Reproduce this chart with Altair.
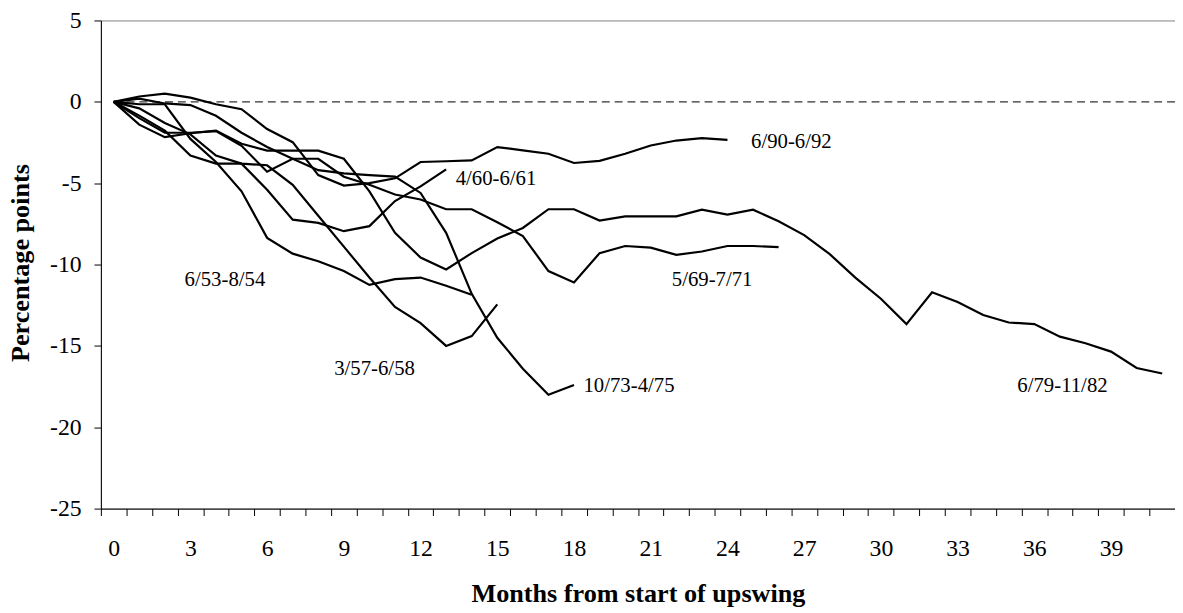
import altair as alt
import pandas as pd

# ---- data ----
series_names = ["6/53-8/54", "3/57-6/58", "4/60-6/61", "5/69-7/71",
                "10/73-4/75", "6/79-11/82", "6/90-6/92"]

s_53 = [0, -0.15, -0.15, -2.28, -3.7, -5.5, -8.36, -9.33, -9.8, -10.4, -11.25,
        -10.9, -10.8, -11.3, -11.86]
s_57 = [0, -0.4, -1.3, -2.0, -3.3, -3.8, -3.9, -5.1, -7.0, -8.9, -10.8, -12.6,
        -13.6, -15.0, -14.4, -12.45]
s_60 = [0, -0.85, -1.77, -3.3, -3.8, -3.8, -5.4, -7.24, -7.44, -7.95, -7.64,
        -6.1, -5.2, -4.15]
s_69 = [0, -1.0, -1.9, -1.9, -1.8, -2.7, -4.3, -3.5, -3.5, -4.6, -5.1, -5.7,
        -6.0, -6.6, -6.6, -7.4, -8.25, -10.4, -11.1, -9.3, -8.86, -8.96, -9.4,
        -9.2, -8.86, -8.86, -8.93]
s_73 = [0, 0.2, -0.1, -0.2, -0.86, -1.9, -2.78, -3.5, -4.2, -4.4, -4.5, -4.6,
        -5.6, -8.05, -11.8, -14.5, -16.4, -18.0, -17.4]
s_79 = [0, -1.4, -2.17, -1.93, -1.77, -2.58, -3.0, -3.0, -3.0, -3.5, -5.5,
        -8.05, -9.57, -10.3, -9.3, -8.4, -7.75, -6.6, -6.6, -7.3, -7.04, -7.04,
        -7.04, -6.63, -6.93, -6.63, -7.34, -8.19, -9.36, -10.8, -12.1, -13.66,
        -11.7, -12.3, -13.1, -13.56, -13.66, -14.43, -14.84, -15.35, -16.36,
        -16.7]
s_90 = [0, 0.33, 0.5, 0.26, -0.15, -0.45, -1.67, -2.48, -4.5, -5.15, -5.0,
        -4.7, -3.7, -3.65, -3.6, -2.78, -2.98, -3.19, -3.76, -3.63, -3.19,
        -2.68, -2.38, -2.23, -2.34]
series_values = [s_53, s_57, s_60, s_69, s_73, s_79, s_90]

# label positions (month, value)
label_month = [4.35, 10.2, 14.95, 23.4, 20.15, 37.1, 26.5]
label_value = [-10.93, -16.4, -4.73, -10.93, -17.45, -17.45, -2.48]

x_labels = list(range(0, 40, 3))          # 0 .. 39
n_months = 42                             # categories 0 .. 41
y_ticks = [5, 0, -5, -10, -15, -20, -25]

# ---- tables ----
rows = []
for name, vals in zip(series_names, series_values):
    for m, v in enumerate(vals):
        rows.append({"series": name, "month": m, "value": v})
df = pd.DataFrame(rows)

ann = pd.DataFrame({"text": series_names, "month": label_month,
                    "value": label_value})

x_min, x_max = -0.5, n_months - 0.5
zero_df = pd.DataFrame({"x": [0], "x2": [x_max], "y": [0]})

FONT = "Liberation Serif"
W, H = 1087, 494

x_scale = alt.Scale(domain=[x_min, x_max], nice=False, zero=False)
y_scale = alt.Scale(domain=[min(y_ticks), max(y_ticks)], nice=False)

tick_vals = sorted([m - 0.5 for m in range(n_months + 1)] + x_labels)

x_axis = alt.Axis(
    values=tick_vals, tickCount=500,
    labelExpr="datum.value % 3 === 0 ? toString(datum.value) : ''",
    tickOpacity={"condition": {"test": "datum.value % 1 === 0", "value": 0},
                 "value": 1},
    tickSize=7, tickColor="black", tickWidth=1,
    domainColor="black", domainWidth=1,
    labelFont=FONT, labelFontSize=24, labelColor="black",
    labelBaseline="alphabetic", labelPadding=40,
    labelOverlap=False, labelFlush=False, labelBound=False,
    grid=False,
    title="Months from start of upswing",
    titleFont=FONT, titleFontSize=26.5, titleFontWeight="bold",
    titleColor="black", titleBaseline="alphabetic", titleY=94.5,
)

y_axis = alt.Axis(
    values=y_ticks, tickCount=100,
    labelExpr="toString(datum.value)",
    tickSize=7, tickColor="black", tickWidth=1,
    domainColor="black", domainWidth=1,
    labelFont=FONT, labelFontSize=24, labelColor="black",
    labelPadding=13, grid=False,
    title="Percentage points",
    titleFont=FONT, titleFontSize=26.5, titleFontWeight="bold",
    titleColor="black", titleAngle=270, titleBaseline="alphabetic",
    titleAlign="center", titleX=-73, titleY=245,
)

lines = alt.Chart(df).mark_line(color="black", strokeWidth=2.2).encode(
    x=alt.X("month:Q", scale=x_scale, axis=x_axis),
    y=alt.Y("value:Q", scale=y_scale, axis=y_axis),
    detail="series:N",
    order="month:Q",
)

zero_line = alt.Chart(zero_df).mark_rule(
    color="#333333", strokeWidth=1.2, strokeDash=[8, 5]
).encode(
    x=alt.X("x:Q", scale=x_scale, axis=x_axis),
    x2="x2:Q",
    y=alt.Y("y:Q", scale=y_scale, axis=y_axis),
)

labels = alt.Chart(ann).mark_text(
    font=FONT, fontSize=21, color="black", align="center", baseline="middle"
).encode(
    x=alt.X("month:Q", scale=x_scale, axis=x_axis),
    y=alt.Y("value:Q", scale=y_scale, axis=y_axis),
    text="text:N",
)

chart = alt.layer(zero_line, lines, labels).properties(
    width=W, height=H,
    autosize=alt.AutoSizeParams(type="none"),
    padding={"left": 94, "top": 9, "right": 0, "bottom": 100},
    background="white",
).configure_view(stroke="#808080", strokeWidth=1)

chart.save("out.html", embed_options={"renderer": "svg", "actions": False})
